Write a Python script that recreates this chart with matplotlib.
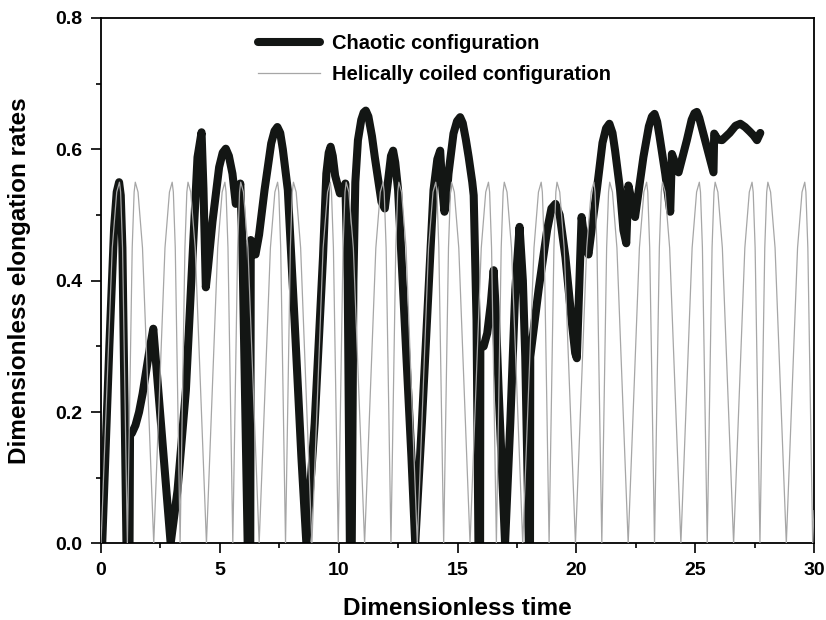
"""
Dimensionless elongation rates vs dimensionless time,
chaotic vs helically coiled configuration.
"""
import matplotlib
matplotlib.use("Agg")
import matplotlib.pyplot as plt
from matplotlib.ticker import MultipleLocator


# DATA

# chaotic configuration: time, elongation rate
chaotic_t = [0.05, 0.35, 0.55, 0.66, 0.76, 0.83, 0.90, 1.07, 1.20, 1.22,
             1.30, 1.45, 1.60, 1.75, 1.90, 2.05, 2.20, 2.93, 3.22, 3.57,
             3.85, 4.06, 4.23, 4.31, 4.41, 4.50, 4.69, 4.97, 5.12, 5.25,
             5.38, 5.53, 5.67, 5.76, 5.86, 5.95, 6.17, 6.28, 6.30, 6.40,
             6.50, 6.65, 6.88, 7.16, 7.30, 7.42, 7.54, 7.65, 7.86, 8.15,
             8.43, 8.64, 8.99, 9.34, 9.48, 9.58, 9.66, 9.75, 9.85, 10.05,
             10.18, 10.28, 10.38, 10.47, 10.55, 10.62, 10.70, 10.81, 10.95, 11.05,
             11.14, 11.25, 11.40, 11.52, 11.80, 11.94, 12.10, 12.20, 12.29, 12.38,
             12.50, 12.78, 13.06, 13.22, 13.50, 13.78, 13.99, 14.15, 14.27, 14.36,
             14.45, 14.55, 14.62, 14.83, 14.98, 15.11, 15.22, 15.35, 15.47, 15.62,
             15.68, 15.80, 15.88, 15.95, 15.96, 16.10, 16.25, 16.40, 16.52, 16.60,
             16.73, 17.00, 17.22, 17.43, 17.61, 17.75, 17.85, 18.00, 18.05, 18.06,
             18.41, 18.77, 18.95, 19.12, 19.30, 19.54, 19.80, 19.95, 20.02, 20.22,
             20.35, 20.51, 20.65, 20.86, 21.10, 21.25, 21.39, 21.52, 21.63, 21.84,
             21.98, 22.10, 22.19, 22.47, 22.82, 23.05, 23.18, 23.29, 23.40, 23.50,
             23.74, 23.95, 24.02, 24.30, 24.65, 24.85, 24.97, 25.07, 25.17, 25.30,
             25.42, 25.77, 25.80, 25.95, 26.13, 26.45, 26.70, 26.90, 27.10, 27.30,
             27.46, 27.60, 27.74]
chaotic_y = [0.000, 0.300, 0.480, 0.535, 0.550, 0.530, 0.450, 0.000, 0.000, 0.165,
             0.168, 0.180, 0.200, 0.228, 0.262, 0.297, 0.327, 0.000, 0.081, 0.233,
             0.436, 0.588, 0.626, 0.540, 0.390, 0.420, 0.490, 0.573, 0.595, 0.601,
             0.590, 0.563, 0.517, 0.530, 0.548, 0.450, 0.000, 0.000, 0.462, 0.445,
             0.440, 0.470, 0.538, 0.609, 0.628, 0.634, 0.625, 0.600, 0.538, 0.335,
             0.132, 0.000, 0.183, 0.436, 0.563, 0.595, 0.604, 0.590, 0.560, 0.533,
             0.535, 0.548, 0.400, 0.000, 0.000, 0.400, 0.550, 0.614, 0.645, 0.656,
             0.659, 0.650, 0.620, 0.588, 0.520, 0.510, 0.560, 0.590, 0.598, 0.580,
             0.538, 0.335, 0.132, 0.000, 0.183, 0.386, 0.538, 0.585, 0.598, 0.540,
             0.505, 0.530, 0.563, 0.624, 0.643, 0.649, 0.640, 0.615, 0.588, 0.550,
             0.530, 0.340, 0.000, 0.000, 0.300, 0.300, 0.320, 0.365, 0.416, 0.360,
             0.233, 0.000, 0.183, 0.386, 0.482, 0.400, 0.284, 0.000, 0.000, 0.284,
             0.386, 0.477, 0.510, 0.517, 0.500, 0.436, 0.340, 0.290, 0.282, 0.497,
             0.460, 0.440, 0.480, 0.538, 0.610, 0.632, 0.639, 0.625, 0.598, 0.538,
             0.477, 0.457, 0.545, 0.497, 0.588, 0.635, 0.650, 0.654, 0.642, 0.620,
             0.563, 0.505, 0.593, 0.565, 0.614, 0.645, 0.655, 0.657, 0.648, 0.630,
             0.614, 0.565, 0.624, 0.615, 0.614, 0.625, 0.636, 0.639, 0.634, 0.627,
             0.621, 0.614, 0.625]

# helically coiled configuration: each arch = minimum, 2 shoulders, peak, 2 shoulders
helix_t = [0.000, 0.473, 0.661, 0.776, 0.825, 0.906,
           1.109, 1.312, 1.393, 1.442, 1.557, 1.745,
           2.218, 2.691, 2.879, 2.994, 3.043, 3.124,
           3.327, 3.530, 3.611, 3.660, 3.775, 3.963,
           4.436, 4.909, 5.097, 5.212, 5.261, 5.342,
           5.545, 5.748, 5.829, 5.878, 5.993, 6.181,
           6.654, 7.127, 7.315, 7.430, 7.479, 7.560,
           7.763, 7.966, 8.047, 8.096, 8.211, 8.399,
           8.872, 9.345, 9.533, 9.648, 9.697, 9.778,
           9.981, 10.184, 10.265, 10.314, 10.429, 10.617,
           11.090, 11.563, 11.751, 11.866, 11.915, 11.996,
           12.199, 12.402, 12.483, 12.532, 12.647, 12.835,
           13.308, 13.781, 13.969, 14.084, 14.133, 14.214,
           14.417, 14.620, 14.701, 14.750, 14.865, 15.053,
           15.526, 15.999, 16.187, 16.302, 16.351, 16.432,
           16.635, 16.838, 16.919, 16.968, 17.083, 17.271,
           17.744, 18.217, 18.405, 18.520, 18.569, 18.650,
           18.853, 19.056, 19.137, 19.186, 19.301, 19.489,
           19.962, 20.435, 20.623, 20.738, 20.787, 20.868,
           21.071, 21.274, 21.355, 21.404, 21.519, 21.707,
           22.180, 22.653, 22.841, 22.956, 23.005, 23.086,
           23.289, 23.492, 23.573, 23.622, 23.737, 23.925,
           24.398, 24.871, 25.059, 25.174, 25.223, 25.304,
           25.507, 25.710, 25.791, 25.840, 25.955, 26.143,
           26.616, 27.089, 27.277, 27.392, 27.441, 27.522,
           27.725, 27.928, 28.009, 28.058, 28.173, 28.361,
           28.834, 29.307, 29.495, 29.610, 29.659, 29.740,
           29.943, 30.000]
helix_y = [0.0, 0.45, 0.535, 0.55, 0.535, 0.45] * 27 + [0.0, 0.05]

# LABELS
x_axis = "Dimensionless time"
y_axis = "Dimensionless elongation rates"
label_chaotic = "Chaotic configuration"
label_helix = "Helically coiled configuration"


# FONT SETTINGS
plt.rcParams['font.family'] = ['Liberation Sans', 'DejaVu Sans']
plt.rcParams['font.weight'] = 'bold'

fig = plt.figure(figsize=(8.26, 6.2), dpi=100)
ax = fig.add_axes([0.1223, 0.1234, 0.8632, 0.8476])

# PLOT THE DATA (grey drawn over the black, like the reference)
ax.plot(chaotic_t, chaotic_y, color='#131614', lw=5.8,
        solid_capstyle='round', solid_joinstyle='round', label=label_chaotic, zorder=2)
ax.plot(helix_t, helix_y, color='#a6a6a6', lw=0.9, label=label_helix, zorder=3)

# AXIS LIMITS AND TICKS
ax.set_xlim(0, 30)
ax.set_ylim(0, 0.8)
ax.xaxis.set_major_locator(MultipleLocator(5))
ax.xaxis.set_minor_locator(MultipleLocator(2.5))
ax.yaxis.set_major_locator(MultipleLocator(0.2))
ax.yaxis.set_minor_locator(MultipleLocator(0.1))
ax.yaxis.set_major_formatter(plt.FormatStrFormatter('%.1f'))
ax.tick_params(which='both', direction='out', top=False, right=False,
               width=1.2, labelsize=14, pad=6.5)
ax.tick_params(which='major', length=7)
ax.tick_params(which='minor', length=3.5)
for s in ax.spines.values():
    s.set_linewidth(1.3)

# AXIS LABELS
ax.set_xlabel(x_axis, fontsize=17.5, fontweight='bold')
ax.set_ylabel(y_axis, fontsize=17.5, fontweight='bold')
ax.xaxis.set_label_coords(0.5, -0.102)
ax.yaxis.set_label_coords(-0.098, 0.5)

# LEGEND
ax.legend(loc='upper left', bbox_to_anchor=(0.22, 0.969), frameon=False,
          fontsize=14.5, handlelength=3.1, handletextpad=0.6,
          labelspacing=0.6, borderpad=0, borderaxespad=0)

fig.savefig("out.png", dpi=100)
